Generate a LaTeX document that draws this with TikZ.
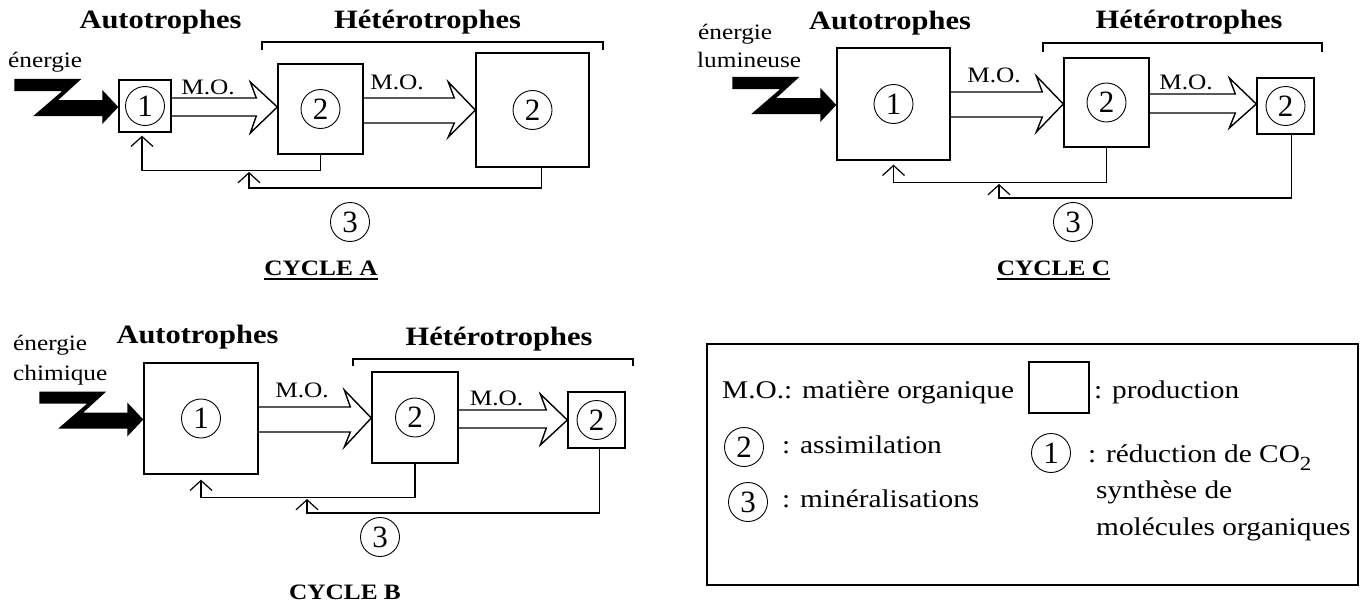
\documentclass[tikz,border=0pt]{standalone}
\usepackage{fontspec}
\usepackage{graphicx}
\setmainfont{Liberation Serif}
\usetikzlibrary{calc,arrows.meta}
\newcommand\sx[1]{\scalebox{1.15}[1]{#1}}
\tikzset{
  ln/.style={line width=1.4pt, line join=miter},
  box/.style={draw, line width=1.4pt, inner sep=0pt},
  num/.style={circle, draw, line width=0.9pt, minimum size=39pt, inner sep=0pt, font=\fontsize{31}{31}\selectfont},
  head/.style={anchor=base, inner sep=0pt, font=\bfseries\fontsize{26.5}{30}\selectfont},
  lbl/.style={anchor=base west, inner sep=0pt, font=\fontsize{22}{26}\selectfont},
  mo/.style={anchor=base, inner sep=0pt, font=\fontsize{22}{26}\selectfont},
  leg/.style={anchor=base west, inner sep=0pt, font=\fontsize{25.5}{30}\selectfont},
  cyc/.style={anchor=base, inner sep=0pt, font=\bfseries\fontsize{22}{26}\selectfont},
  fb/.style={line width=1.4pt, -{Straight Barb[length=10pt,width=22pt,line width=1.2pt]}},
  brk/.style={line width=1.4pt},
  bolt/.style={fill=black},
  ul/.style={line width=1.3pt}
}
\newcommand\bolt[1]{\fill[bolt,shift={(#1.west)}] (-104,-27) -- (-37,-27) -- (-60,-6) -- (-16,-6) -- (-16,-16) -- (0,1) -- (-16,18) -- (-16,10) -- (-85,10) -- (-56,-15) -- (-104,-15) -- cycle;}
% #1 src, #2 dst, #3 shaft top, #4 shaft bottom, #5 barb top, #6 tip y, #7 barb bottom
\newcommand\harrow[7]{\draw[ln] let \p1=(#1.east), \p2=(#2.west) in
  ({\x1},{-#3pt}) -- ({\x2-21pt},{-#3pt}) -- ({\x2-27pt},{-#5pt}) -- ({\x2},{-#6pt})
  -- ({\x2-27pt},{-#7pt}) -- ({\x2-21pt},{-#4pt}) -- ({\x1},{-#4pt});}
\begin{document}
\begin{tikzpicture}[x=1pt,y=-1pt]
\useasboundingbox (0,0) rectangle (1363,602);
\fill[white] (0,0) rectangle (1363,602);

%================ CYCLE A
\node[head] (hA1) at (160.5,29) {\sx{Autotrophes}};
\node[head] (hA2) at (427.5,29) {\sx{Hétérotrophes}};
\draw[brk] (262,50) -- (262,42) -- (603,42) -- (603,50);
\node[lbl] (eA) at (8,68) {\sx{énergie}};
\node[box, minimum width=52pt, minimum height=52pt] (b1A) at (145,106) {};
\node[box, minimum width=85pt, minimum height=90pt] (b2A) at (320.5,109) {};
\node[box, minimum width=113pt, minimum height=114pt] (b3A) at (532.5,110) {};
\node[num] (n1A) at (b1A) {1};
\node[num] (n2A) at (b2A) {2};
\node[num] (n3A) at (b3A) {2};
\bolt{b1A}
\harrow{b1A}{b2A}{98}{116}{82}{107}{133}
\harrow{b2A}{b3A}{98}{123}{82}{110}{137}
\node[mo] (moA1) at (208,94) {\sx{M.O.}};
\node[mo] (moA2) at (397,89) {\sx{M.O.}};
\coordinate (jA) at (249,170);
\draw[fb] (b2A.south) |- ($(b1A.south)+(-3,38)$) -- ($(b1A.south)+(-3,3)$);
\draw[fb] ($(b3A.south)+(9,0)$) |- ($(jA)+(0,18)$) -- ($(jA)+(0,2)$);
\node[num] (mA) at (350,222) {3};
\node[cyc] (cA) at (321,275) {\sx{CYCLE A}};
\draw[ul] ($(cA.base west)+(0,4)$) -- ($(cA.base east)+(0,4)$);

%================ CYCLE C
\node[head] (hC1) at (890,30) {\sx{Autotrophes}};
\node[head] (hC2) at (1189,29) {\sx{Hétérotrophes}};
\draw[brk] (1043,52) -- (1043,43) -- (1322,43) -- (1322,52);
\node[lbl] (eC1) at (698,40) {\sx{énergie}};
\node[lbl] (eC2) at (697,68) {\sx{lumineuse}};
\node[box, minimum width=113pt, minimum height=112pt] (b1C) at (893.5,104) {};
\node[box, minimum width=85pt, minimum height=89pt] (b2C) at (1106.5,102.5) {};
\node[box, minimum width=57pt, minimum height=56pt] (b3C) at (1285.5,106) {};
\node[num] (n1C) at (b1C) {1};
\node[num] (n2C) at (b2C) {2};
\node[num] (n3C) at (b3C) {2};
\bolt{b1C}
\harrow{b1C}{b2C}{92}{117}{76}{104}{132}
\harrow{b2C}{b3C}{94}{113}{78}{104}{128}
\node[mo] (moC1) at (994,83) {\sx{M.O.}};
\node[mo] (moC2) at (1186,89) {\sx{M.O.}};
\coordinate (jC) at (999,182);
\draw[fb] (b2C.south) |- ($(b1C.south)+(0,22)$) -- ($(b1C.south)+(0,4)$);
\draw[fb] ($(b3C.south)+(6,0)$) |- ($(jC)+(0,16)$) -- ($(jC)+(0,2)$);
\node[num] (mC) at (1073,222) {3};
\node[cyc] (cC) at (1053.5,275) {\sx{CYCLE C}};
\draw[ul] ($(cC.base west)+(0,4)$) -- ($(cC.base east)+(0,4)$);

%================ CYCLE B
\node[head] (hB1) at (197.5,343) {\sx{Autotrophes}};
\node[head] (hB2) at (499,345) {\sx{Hétérotrophes}};
\draw[brk] (353,366) -- (353,359) -- (633,359) -- (633,366);
\node[lbl] (eB1) at (13,350) {\sx{énergie}};
\node[lbl] (eB2) at (13,380) {\sx{chimique}};
\node[box, minimum width=114pt, minimum height=111pt] (b1B) at (201,418.5) {};
\node[box, minimum width=86pt, minimum height=91pt] (b2B) at (415,417.5) {};
\node[box, minimum width=57pt, minimum height=56pt] (b3B) at (596.5,420) {};
\node[num] (n1B) at (b1B) {1};
\node[num] (n2B) at (b2B) {2};
\node[num] (n3B) at (b3B) {2};
\bolt{b1B}
\harrow{b1B}{b2B}{407}{432}{390}{418}{447}
\harrow{b2B}{b3B}{410}{428}{394}{420}{445}
\node[mo] (moB1) at (302,397) {\sx{M.O.}};
\node[mo] (moB2) at (496.5,405) {\sx{M.O.}};
\coordinate (jB) at (307,497);
\draw[fb] (b2B.south) |- ($(b1B.south)+(0,23)$) -- ($(b1B.south)+(0,5)$);
\draw[fb] ($(b3B.south)+(3,0)$) |- ($(jB)+(0,16)$) -- ($(jB)+(0,2)$);
\node[num] (mB) at (380,537) {3};
\node[cyc] (cB) at (345,599) {\sx{CYCLE B}};

%================ LEGEND
\node[box, minimum width=651pt, minimum height=241pt] (legend) at (1032.5,464.5) {};
\node[leg] (l1) at (722,398) {\sx{M.O.: matière organique}};
\node[box, minimum width=60pt, minimum height=51pt] (sq) at (1059,387.5) {};
\node[leg] (l2) at (1094,398) {\sx{: production}};
\node[num] (lc2) at (744,447) {2};
\node[leg] (l3) at (782,453) {\sx{: assimilation}};
\node[num] (lc3) at (748,502) {3};
\node[leg] (l4) at (782,507) {\sx{: minéralisations}};
\node[num] (lc1) at (1051,453) {1};
\node[leg] (l5) at (1088,462) {\sx{: réduction de CO\raisebox{-8pt}{\fontsize{20}{20}\selectfont 2}}};
\node[leg] (l6) at (1096,498) {\sx{synthèse de}};
\node[leg] (l7) at (1096,535) {\sx{molécules organiques}};
\end{tikzpicture}
\end{document}
